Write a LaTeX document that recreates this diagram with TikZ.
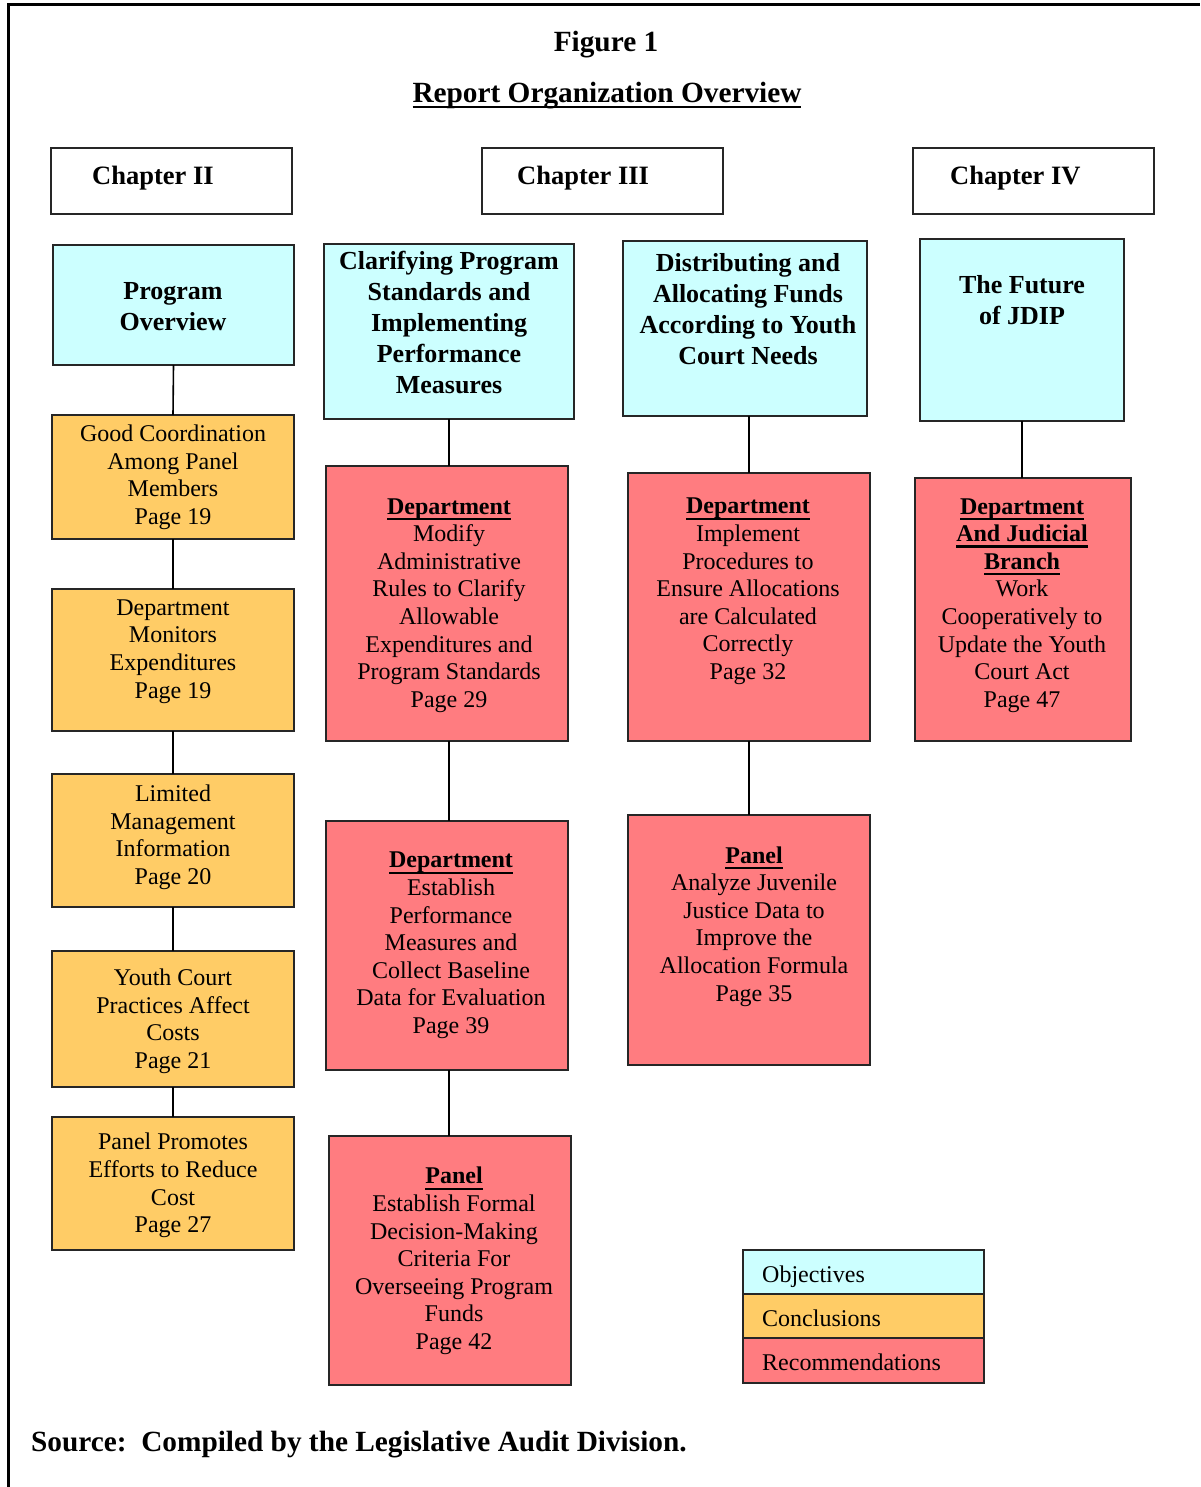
\documentclass[tikz,border=0pt]{standalone}
\usepackage{fontspec}
\setmainfont{Liberation Serif}
\definecolor{objc}{HTML}{CCFFFF}
\definecolor{conc}{HTML}{FFCC66}
\definecolor{recc}{HTML}{FF7C80}
\newcommand\myul[1]{\setbox0=\hbox{#1}\rlap{\rule[-6pt]{\wd0}{2.4pt}}\box0}
\newcommand\hd[1]{\textbf{\myul{#1}}}
\newcommand\bx[6]{\node[boxs, fill=#6, minimum width={#4-#2}, minimum height={#5-#3}] (#1) at ({(#2+#4)/2},{(#3+#5)/2}) {};}
\begin{document}
\begin{tikzpicture}[x=1pt,y=-1pt,
  boxs/.style={draw=black!85, line width=1.4pt, inner sep=0pt, outer sep=0pt},
  bt/.style={font=\fontsize{26}{31}\selectfont\bfseries, align=center, inner sep=0pt,
    execute at begin node=\strut, execute at end node=\strut},
  nt/.style={font=\fontsize{24}{27.6}\selectfont, align=center, inner sep=0pt,
    execute at begin node=\strut, execute at end node=\strut},
  cht/.style={font=\fontsize{26.5}{31}\selectfont\bfseries, anchor=base west, inner sep=0pt},
  lgt/.style={font=\fontsize{24}{27.6}\selectfont, anchor=base west, inner sep=0pt},
  bigt/.style={font=\fontsize{29.3}{34}\selectfont\bfseries, inner sep=0pt},
  conn/.style={line width=1.6pt, black}
]
\useasboundingbox (0,0) rectangle (1200,1487);
% frame
\draw[line width=3pt] (8,1487) -- (8,5) -- (1200,5);
% title
\node[bigt, anchor=base] (title) at (606,51.7) {Figure 1};
\node[bigt, anchor=base] (subtitle) at (607,102.5)
  {\setbox0=\hbox{Report Organization Overview}\rlap{\rule[-6pt]{\wd0}{2.8pt}}\box0};
% chapters
\bx{c2}{51}{148}{292}{214}{white}
\bx{c3}{482}{148}{723}{214}{white}
\bx{c4}{913}{148}{1154}{214}{white}
\node[cht] (c2t) at (92,184.5) {Chapter II};
\node[cht] (c3t) at (517,184.5) {Chapter III};
\node[cht] (c4t) at (950,184.5) {Chapter IV};
% objectives
\bx{o1}{53}{245}{294}{365}{objc}
\bx{o2}{324}{244}{574}{419}{objc}
\bx{o3}{623}{241}{867}{416}{objc}
\bx{o4}{920}{239}{1124}{421}{objc}
\node[bt] (o1t) at (173,311) {Program\\Overview};
\node[bt] (o2t) at (449,327) {Clarifying Program\\Standards and\\Implementing\\Performance\\Measures};
\node[bt] (o3t) at (748,314) {Distributing and\\Allocating Funds\\According to Youth\\Court Needs};
\node[bt] (o4t) at (1022,305) {The Future\\of JDIP};
% conclusions
\bx{k1}{52}{415}{294}{539}{conc}
\bx{k2}{52}{589}{294}{731}{conc}
\bx{k3}{52}{774}{294}{907}{conc}
\bx{k4}{52}{951}{294}{1087}{conc}
\bx{k5}{52}{1117}{294}{1250}{conc}
\node[nt] (k1t) at (173,479) {Good Coordination\\Among Panel\\Members\\Page 19};
\node[nt] (k2t) at (173,653) {Department\\Monitors\\Expenditures\\Page 19};
\node[nt] (k3t) at (173,839) {Limited\\Management\\Information\\Page 20};
\node[nt] (k4t) at (173,1023) {Youth Court\\Practices Affect\\Costs\\Page 21};
\node[nt] (k5t) at (173,1187) {Panel Promotes\\Efforts to Reduce\\Cost\\Page 27};
% recommendations
\bx{r1}{326}{466}{568}{741}{recc}
\bx{r2}{326}{821}{568}{1070}{recc}
\bx{r3}{329}{1136}{571}{1385}{recc}
\bx{r4}{628}{473}{870}{741}{recc}
\bx{r5}{628}{815}{870}{1065}{recc}
\bx{r6}{915}{478}{1131}{741}{recc}
\node[nt] (r1t) at (449,607) {\hd{Department}\\Modify\\Administrative\\Rules to Clarify\\Allowable\\Expenditures and\\Program Standards\\Page 29};
\node[nt] (r2t) at (451,947) {\hd{Department}\\Establish\\Performance\\Measures and\\Collect Baseline\\Data for Evaluation\\Page 39};
\node[nt] (r3t) at (454,1262.5) {\hd{Panel}\\Establish Formal\\Decision-Making\\Criteria For\\Overseeing Program\\Funds\\Page 42};
\node[nt] (r4t) at (748,593) {\hd{Department}\\Implement\\Procedures to\\Ensure Allocations\\are Calculated\\Correctly\\Page 32};
\node[nt] (r5t) at (754,928) {\hd{Panel}\\Analyze Juvenile\\Justice Data to\\Improve the\\Allocation Formula\\Page 35};
\node[nt] (r6t) at (1022,607) {\hd{Department}\\\hd{And Judicial}\\\hd{Branch}\\Work\\Cooperatively to\\Update the Youth\\Court Act\\Page 47};
% connectors
\draw[conn] (o1.south) -- (k1.north);
\draw[conn] (k1.south) -- (k2.north);
\draw[conn] (k2.south) -- (k3.north);
\draw[conn] (k3.south) -- (k4.north);
\draw[conn] (k4.south) -- (k5.north);
\draw[conn] (o2.south) -- (o2.south |- r1.north);
\draw[conn] (o2.south |- r1.south) -- (o2.south |- r2.north);
\draw[conn] (o2.south |- r2.south) -- (o2.south |- r3.north);
\draw[conn] (r4.north |- o3.south) -- (r4.north);
\draw[conn] (r4.south) -- (r4.south |- r5.north);
\draw[conn] (o4.south) -- (o4.south |- r6.north);
% legend
\bx{l1}{743}{1250}{984}{1294}{objc}
\bx{l2}{743}{1294}{984}{1338}{conc}
\bx{l3}{743}{1338}{984}{1383}{recc}
\node[lgt] (l1t) at (762,1282) {Objectives};
\node[lgt] (l2t) at (762,1326) {Conclusions};
\node[lgt] (l3t) at (762,1370) {Recommendations};
% source
\node[bigt, anchor=base west] (src) at (31,1451) {Source:\ \ Compiled by the Legislative Audit Division.};
\end{tikzpicture}
\end{document}
